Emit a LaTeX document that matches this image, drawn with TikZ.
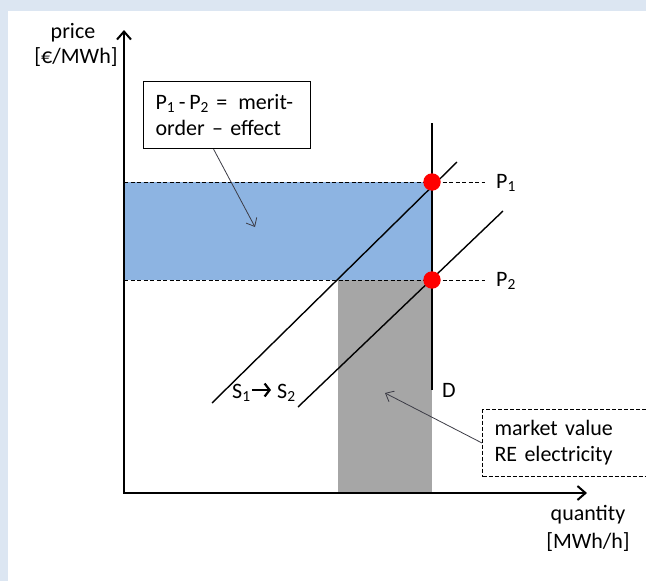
\documentclass[tikz,border=0pt]{standalone}
\usepackage{fontspec}
\setmainfont{Carlito}
\usetikzlibrary{arrows.meta,calc}
\definecolor{bgblue}{RGB}{220,230,242}
\definecolor{areablue}{RGB}{141,180,226}
\definecolor{areagray}{RGB}{166,166,166}
\definecolor{ptrgray}{RGB}{60,60,70}
\tikzset{
  axisline/.style={line width=2pt, {Straight Barb[length=8pt,width=14pt,line width=2pt]}-{Straight Barb[length=8pt,width=14pt,line width=2pt]}},
  levelline/.style={line width=1pt, dash pattern=on 4pt off 2.5pt},
  curveline/.style={line width=1.4pt},
  pointer/.style={draw=ptrgray, line width=0.8pt, -{Straight Barb[length=7pt,width=12pt,line width=0.8pt]}},
  shiftarrow/.style={line width=2.2pt, -{Straight Barb[length=5pt,width=13pt,line width=2.2pt]}},
  reddot/.style={fill=red},
  txt/.style={inner sep=0pt},
  infobox/.style={draw, line width=1.2pt, anchor=north west, align=left, inner xsep=12pt, inner ysep=0pt, minimum height=67pt}
}
\begin{document}
\begin{tikzpicture}[x=1pt,y=-1pt,font=\fontsize{22}{26}\selectfont]
\useasboundingbox (0,0) rectangle (646,581);
\fill[bgblue] (0,0) rectangle (646,581);
\fill[white] (8,11) rectangle (646,581);

\coordinate (O) at (124,493);
\coordinate (ytip) at (124,30);
\coordinate (xtip) at (587,493);
\coordinate (p1) at (432,182);
\coordinate (p2) at (432,280);

% areas
\fill[areablue] (124,182) rectangle (p2);
\fill[areagray] (338,280) rectangle (432,493);

% price levels
\coordinate (p1end) at (485,182);
\coordinate (p2end) at (485,280);
\draw[levelline] (124,182) -- (p1end);
\draw[levelline] (124,280) -- (p2end);

% demand
\coordinate (dtop) at (432,123);
\coordinate (dbot) at (432,390);
\draw[curveline] (dtop) -- (dbot);

% supply curves
\coordinate (s1a) at (212,403);
\coordinate (s1b) at (457,162);
\coordinate (s2a) at (298,407);
\coordinate (s2b) at (503,211);
\draw[curveline] (s1a) -- (s1b);
\draw[curveline] (s2a) -- (s2b);

% equilibrium points
\fill[reddot] (p1) circle (8.7pt);
\fill[reddot] (p2) circle (8.7pt);

% axes
\draw[axisline] (ytip) -- (O) -- (xtip);

% axis labels
\node[txt] (price) at (73,33) {price};
\node[txt] (priceunit) at (76,57) {[€/MWh]};
\node[txt] (qty) at (588,515) {quantity};
\node[txt] (qtyunit) at (588,542) {[MWh/h]};

% level labels
\node[txt, anchor=base west] (lp1) at (496,188) {P\textsubscript{1}};
\node[txt, anchor=base west] (lp2) at (496,286) {P\textsubscript{2}};
\node[txt, anchor=base west] (ld) at (442,397) {D};
\node[txt, anchor=base west] (ls1) at (232,398) {S\textsubscript{1}};
\node[txt, anchor=base west] (ls2) at (277,398) {S\textsubscript{2}};
\draw[shiftarrow] ([xshift=1pt]ls1.east |- 0,390) -- ([xshift=-6pt]ls2.west |- 0,390);

% merit-order box
\node[infobox, text width=143pt, minimum width=167pt] (merit) at (143,81)
  {\mbox{P\textsubscript{1}\,-\,P\textsubscript{2} = \,merit-}\\order \textendash\ effect};
\coordinate (mtip) at (255,227);
\draw[pointer] ([xshift=-13.5pt]merit.south) -- (mtip);

% market value box
\node[infobox, dashed, dash pattern=on 4pt off 2pt, line width=1pt, text width=150pt, minimum width=174pt] (mv) at (482,409)
  {market value\\RE electricity};
\coordinate (vtip) at (385,393);
\draw[pointer] (mv.west) -- (vtip);
\end{tikzpicture}
\end{document}
